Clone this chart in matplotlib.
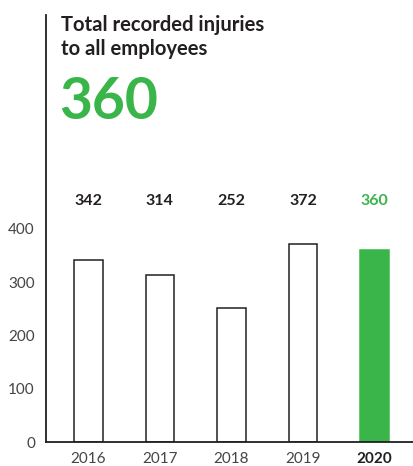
import matplotlib
matplotlib.use("Agg")
import matplotlib.pyplot as plt

years = ["2016", "2017", "2018", "2019", "2020"]
injuries = [342, 314, 252, 372, 360]
yticks = [0, 100, 200, 300, 400]
title_lines = ["Total recorded injuries", "to all employees"]
headline = "360"

GREEN = "#3AB54A"
DARK = "#231F20"
W, H = 414, 466

plt.rcParams['font.family'] = ['Lato', 'DejaVu Sans']
fig = plt.figure(figsize=(W / 100, H / 100), dpi=100)
ax = fig.add_axes([46 / W, (H - 442) / H, (W - 46) / W, (442 - 15) / H])

x = list(range(len(years)))
colors = ["white"] * (len(years) - 1) + [GREEN]
edges = [DARK] * (len(years) - 1) + [GREEN]
ax.bar(x, injuries, width=0.4, color=colors, edgecolor=edges, linewidth=1.1)

for i, v in enumerate(injuries):
    last = i == len(injuries) - 1
    ax.text(i, 453, str(v), ha="center", va="center", fontsize=11.5,
            fontweight="bold", color=GREEN if last else DARK)

ax.set_xlim(-0.59, 4.55)
ax.set_ylim(0, 801)
ax.set_yticks(yticks)
ax.set_yticklabels([str(t) for t in yticks], fontsize=11, color="#444444")
ax.set_xticks(x)
ax.set_xticklabels(years, fontsize=11, color="#444444")
ax.get_xticklabels()[-1].set_fontweight("bold")
ax.get_xticklabels()[-1].set_color(DARK)
ax.tick_params(length=0, pad=7)
ax.tick_params(axis="y", pad=8)
for s in ["top", "right"]:
    ax.spines[s].set_visible(False)
for s in ["left", "bottom"]:
    ax.spines[s].set_color(DARK)
    ax.spines[s].set_linewidth(1.3)

fig.text(61 / W, 1 - 31 / H, title_lines[0], fontsize=14.6, fontweight="bold",
         color=DARK, va="baseline", ha="left")
fig.text(61 / W, 1 - 55 / H, title_lines[1], fontsize=14.6, fontweight="bold",
         color=DARK, va="baseline", ha="left")
fig.text(59 / W, 1 - 119 / H, headline, fontsize=41, fontweight="bold",
         color=GREEN, va="baseline", ha="left")

fig.savefig("out.png", dpi=100)
